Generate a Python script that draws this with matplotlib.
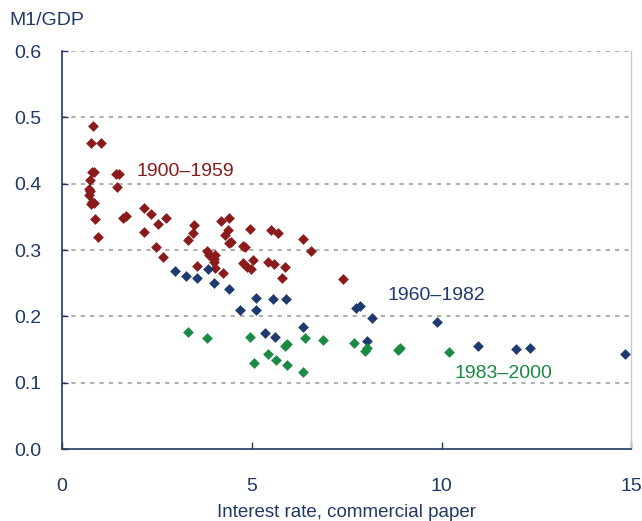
import matplotlib.pyplot as plt

# 1900-1959
rate_early = [0.81, 0.77, 1.03, 0.78, 0.83, 0.74, 0.72, 0.70, 0.78, 0.83,
              0.76, 0.88, 0.94, 1.43, 1.49, 1.44, 1.60, 1.68, 2.17, 2.35,
              2.75, 2.53, 2.17, 2.47, 2.66, 3.47, 3.44, 3.32, 3.56, 4.23,
              4.20, 4.41, 4.37, 4.29, 4.41, 4.45, 4.94, 4.77, 4.81, 4.77,
              4.86, 4.99, 5.04, 3.82, 3.88, 3.95, 4.00, 4.04, 4.00, 4.04,
              5.50, 5.70, 6.36, 6.56, 7.41, 5.43, 5.58, 5.88, 5.79, 0.73]
m1_early = [0.487, 0.462, 0.462, 0.417, 0.417, 0.406, 0.392, 0.383, 0.373, 0.371,
            0.370, 0.347, 0.319, 0.415, 0.415, 0.395, 0.348, 0.352, 0.363, 0.355,
            0.349, 0.339, 0.327, 0.305, 0.289, 0.338, 0.325, 0.315, 0.276, 0.265,
            0.344, 0.349, 0.331, 0.322, 0.310, 0.312, 0.332, 0.306, 0.304, 0.280,
            0.275, 0.272, 0.285, 0.298, 0.293, 0.290, 0.287, 0.293, 0.282, 0.273,
            0.330, 0.325, 0.316, 0.299, 0.256, 0.282, 0.279, 0.274, 0.258, 0.389]

# 1960-1982
rate_mid = [2.97, 3.27, 3.56, 3.85, 4.00, 4.41, 5.11, 5.55, 5.91, 4.70,
            5.11, 6.36, 5.34, 5.62, 7.74, 7.85, 8.17, 9.88, 8.03, 10.95,
            11.95, 12.32, 14.82]
m1_mid = [0.268, 0.261, 0.258, 0.271, 0.251, 0.242, 0.228, 0.226, 0.226, 0.210,
          0.210, 0.184, 0.175, 0.169, 0.213, 0.216, 0.198, 0.191, 0.163, 0.155,
          0.151, 0.153, 0.144]

# 1983-2000
rate_late = [3.32, 3.82, 4.94, 5.87, 5.93, 6.40, 6.87, 5.43, 5.64, 5.06,
             5.93, 6.36, 7.70, 7.97, 8.03, 8.84, 8.91, 10.20]
m1_late = [0.177, 0.167, 0.169, 0.155, 0.159, 0.167, 0.164, 0.144, 0.134, 0.130,
           0.127, 0.116, 0.160, 0.148, 0.153, 0.150, 0.153, 0.146]

RED = "#8b1a1a"
BLUE = "#1f3a6e"
GREEN = "#1a8a45"
NAVY = "#1f3864"

plt.rcParams["font.family"] = ["Liberation Sans", "DejaVu Sans"]

fig = plt.figure(figsize=(6.42, 5.21), dpi=100)
ax = fig.add_axes([0.0966, 0.138, 0.887, 0.764])

for y in [0.1, 0.2, 0.3, 0.4, 0.5, 0.6]:
    ax.axhline(y, color="#b0b0b0", lw=1.5, ls=(0, (2, 2.5)), zorder=1)

ax.scatter(rate_early, m1_early, marker="D", s=30, color=RED, lw=0, zorder=3)
ax.scatter(rate_mid, m1_mid, marker="D", s=30, color=BLUE, lw=0, zorder=3)
ax.scatter(rate_late, m1_late, marker="D", s=30, color=GREEN, lw=0, zorder=3)

ax.text(3.24, 0.418, "1900\u20131959", color=RED, fontsize=14, ha="center", va="center")
ax.text(9.86, 0.231, "1960\u20131982", color=BLUE, fontsize=14, ha="center", va="center")
ax.text(11.63, 0.114, "1983\u20132000", color=GREEN, fontsize=14, ha="center", va="center")

ax.set_xlim(0, 15)
ax.set_ylim(0, 0.6)
ax.set_xticks([0, 5, 10, 15])
ax.set_yticks([0.0, 0.1, 0.2, 0.3, 0.4, 0.5, 0.6])
ax.set_yticklabels(["0.0", "0.1", "0.2", "0.3", "0.4", "0.5", "0.6"])

ax.tick_params(axis="x", direction="in", length=5, width=1, color=NAVY,
               labelcolor=NAVY, labelsize=14, pad=21)
ax.tick_params(axis="y", direction="in", length=4, width=1, color=NAVY,
               labelcolor=NAVY, labelsize=14, pad=15)

ax.spines["top"].set_visible(False)
ax.spines["left"].set_color(NAVY)
ax.spines["bottom"].set_color(NAVY)
ax.spines["left"].set_linewidth(1.2)
ax.spines["bottom"].set_linewidth(1.2)
ax.spines["right"].set_color("#c8c8c8")
ax.spines["right"].set_linewidth(1)

ax.set_xlabel("Interest rate, commercial paper", color=NAVY, fontsize=13.5, labelpad=6)
fig.text(0.014, 0.96, "M1/GDP", color=NAVY, fontsize=14, ha="left", va="center")

fig.savefig("out.png", dpi=100)
